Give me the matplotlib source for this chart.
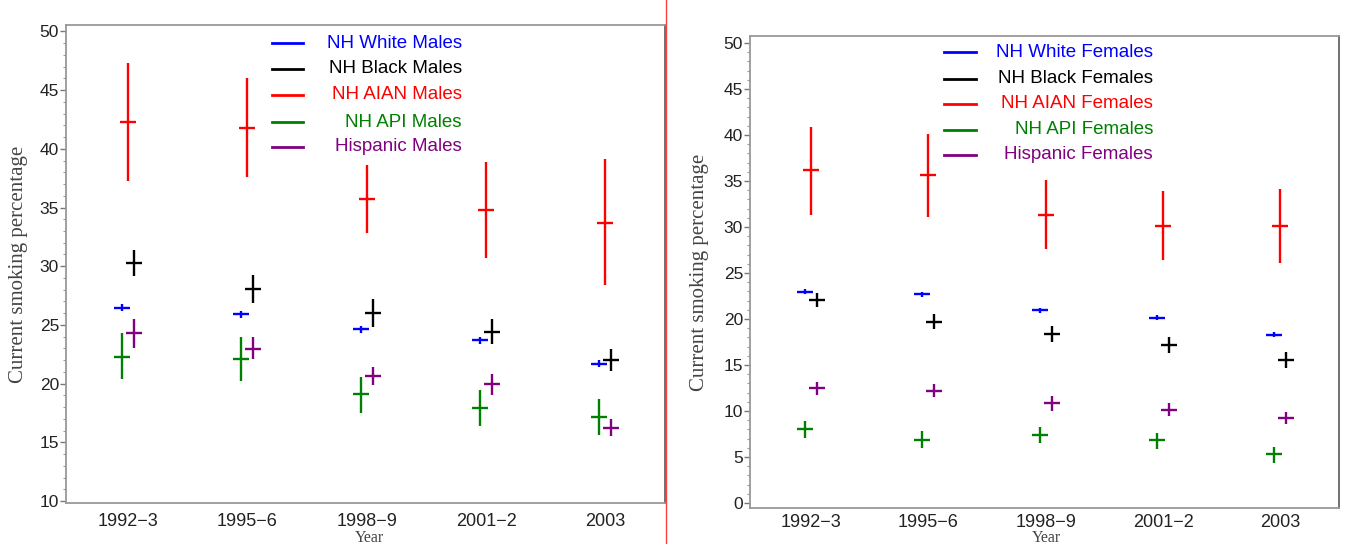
import matplotlib
matplotlib.use('Agg')
import matplotlib.pyplot as plt
from matplotlib.lines import Line2D
from matplotlib.ticker import MultipleLocator
import numpy as np

periods = ['1992\u22123', '1995\u22126', '1998\u22129', '2001\u22122', '2003']

# males: mean, lower, upper
m_white = [26.47, 25.91, 24.63, 23.7, 21.68]
m_white_lo = [26.17, 25.6, 24.33, 23.4, 21.38]
m_white_hi = [26.77, 26.22, 24.93, 24.0, 21.98]
m_black = [30.3, 28.07, 26.0, 24.38, 22.02]
m_black_lo = [29.2, 26.9, 24.8, 23.36, 21.11]
m_black_hi = [31.4, 29.26, 27.19, 25.51, 22.93]
m_aian = [42.25, 41.8, 35.7, 34.8, 33.7]
m_aian_lo = [37.3, 37.6, 32.8, 30.7, 28.4]
m_aian_hi = [47.3, 46.0, 38.6, 38.9, 39.1]
m_api = [22.27, 22.1, 19.1, 17.9, 17.19]
m_api_lo = [20.38, 20.26, 17.53, 16.4, 15.63]
m_api_hi = [24.29, 24.0, 20.6, 19.46, 18.7]
m_hisp = [24.32, 22.98, 20.66, 19.95, 16.25]
m_hisp_lo = [23.07, 22.1, 19.89, 19.04, 15.57]
m_hisp_hi = [25.49, 24.0, 21.45, 20.83, 16.99]

# females: mean, lower, upper
f_white = [22.96, 22.67, 20.93, 20.14, 18.3]
f_white_lo = [22.67, 22.42, 20.63, 19.84, 18.0]
f_white_hi = [23.25, 22.92, 21.23, 20.44, 18.6]
f_black = [22.09, 19.71, 18.33, 17.18, 15.56]
f_black_lo = [21.3, 18.92, 17.46, 16.32, 14.69]
f_black_hi = [22.88, 20.5, 19.2, 18.05, 16.38]
f_aian = [36.2, 35.6, 31.35, 30.15, 30.15]
f_aian_lo = [31.35, 31.1, 27.6, 26.4, 26.1]
f_aian_hi = [40.9, 40.1, 35.15, 33.9, 34.1]
f_api = [8.0, 6.89, 7.39, 6.82, 5.3]
f_api_lo = [7.1, 6.02, 6.5, 5.92, 4.4]
f_api_hi = [8.87, 7.82, 8.26, 7.65, 6.13]
f_hisp = [12.45, 12.2, 10.82, 10.14, 9.27]
f_hisp_lo = [11.77, 11.47, 10.03, 9.45, 8.55]
f_hisp_hi = [13.13, 12.99, 11.61, 10.82, 9.92]

colors = ['#0000ff', '#000000', '#ff0000', '#008000', '#800080']
offsets = [-0.05, 0.05, 0.0, -0.05, 0.05]

males = [('NH White Males', m_white, m_white_lo, m_white_hi),
         ('NH Black Males', m_black, m_black_lo, m_black_hi),
         ('NH AIAN Males', m_aian, m_aian_lo, m_aian_hi),
         ('NH API Males', m_api, m_api_lo, m_api_hi),
         ('Hispanic Males', m_hisp, m_hisp_lo, m_hisp_hi)]
females = [('NH White Females', f_white, f_white_lo, f_white_hi),
           ('NH Black Females', f_black, f_black_lo, f_black_hi),
           ('NH AIAN Females', f_aian, f_aian_lo, f_aian_hi),
           ('NH API Females', f_api, f_api_lo, f_api_hi),
           ('Hispanic Females', f_hisp, f_hisp_lo, f_hisp_hi)]

fig = plt.figure(figsize=(13.46, 5.44), dpi=100)
fig.patch.set_facecolor('white')

# red divider on the right of the left image
fig.add_artist(Line2D([666 / 1346, 666 / 1346], [0, 1], color='#ff4040', lw=1.0,
                      transform=fig.transFigure, zorder=-1))

ax1 = fig.add_axes([66 / 1346, 41 / 544, 599 / 1346, 478 / 544])
ax2 = fig.add_axes([750 / 1346, 36 / 544, 589 / 1346, 472 / 544])


def draw_panel(ax, groups, ylim, ymin_tick, leg_x, leg_txt_x, leg_rows, xlab_pos, ylab_x, xpad):
    ax.set_facecolor('none')
    x = np.arange(len(periods))
    for (name, mean, lo, hi), c, off in zip(groups, colors, offsets):
        mean = np.array(mean)
        yerr = [mean - np.array(lo), np.array(hi) - mean]
        ax.errorbar(x + off, mean, yerr=yerr, fmt='_', color=c, ecolor=c,
                    markersize=12, markeredgewidth=1.7, elinewidth=1.7, capsize=0)
    # legend drawn by hand: line on left, right-aligned text
    for (name, *_), c, yy in zip(groups, colors, leg_rows):
        ax.plot(leg_x, [yy, yy], color=c, lw=2, transform=ax.transAxes)
        ax.text(leg_txt_x, yy, name, color=c, fontsize=13.5, ha='right', va='center',
                family='Liberation Sans', transform=ax.transAxes)
    ax.set_xlim(-0.52, 4.5)
    ax.set_ylim(*ylim)
    ax.set_xticks(x)
    ax.set_xticklabels(periods, fontsize=13, family='Liberation Sans', color='#222222')
    ax.tick_params(axis='x', length=0, pad=xpad)
    ax.set_yticks(np.arange(ymin_tick, 51, 5))
    ax.yaxis.set_minor_locator(MultipleLocator(1))
    ax.tick_params(axis='y', which='major', length=4, width=1, color='#777777', pad=1,
                   labelsize=12.5, labelcolor='#222222')
    ax.tick_params(axis='y', which='minor', length=2, width=0.8, color='#999999')
    for lab in ax.get_yticklabels():
        lab.set_family('Liberation Sans')
    for s in ax.spines.values():
        s.set_color('#999999')
        s.set_linewidth(1.3)
    ax.spines['right'].set_color('#666666')
    ax.set_ylabel('Current smoking percentage', fontsize=15, family='Liberation Serif',
                  color='#444444', va='center')
    ax.yaxis.set_label_coords(ylab_x, 0.5)
    ax.set_xlabel('Year', fontsize=11.5, family='Liberation Serif', color='#444444', va='top')
    ax.xaxis.set_label_coords(*xlab_pos)


draw_panel(ax1, males, (9.83, 50.55), 10, [0.344, 0.396], 0.661,
           [0.962, 0.908, 0.854, 0.797, 0.745], (0.506, -0.056), -0.08, 7)
draw_panel(ax2, females, (-0.54, 50.76), 0, [0.329, 0.384], 0.684,
           [0.966, 0.909, 0.856, 0.801, 0.748], (0.504, -0.046), -0.085, 4)

plt.savefig('out.png', dpi=100)
